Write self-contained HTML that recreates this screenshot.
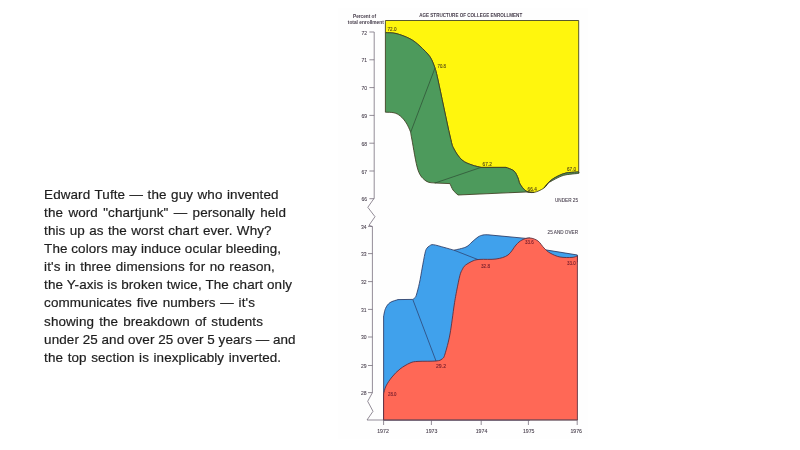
<!DOCTYPE html>
<html><head><meta charset="utf-8"><title>Worst chart ever</title>
<style>
html,body{margin:0;padding:0;background:#fff}
body{width:800px;height:450px;position:relative;overflow:hidden;font-family:"Liberation Sans",sans-serif}
.t{position:absolute;left:44.1px;top:185.8px;font-size:13.45px;line-height:18.11px;color:#1e1e1e;-webkit-text-stroke:0.2px #1e1e1e;white-space:nowrap;letter-spacing:0.1px}
.t span{display:block;transform-origin:0 50%}
</style></head><body>
<div class="t">
<span style="word-spacing:0.65px">Edward Tufte — the guy who invented</span>
<span style="word-spacing:1.49px">the word &quot;chartjunk&quot; — personally held</span>
<span style="word-spacing:0.50px">this up as the worst chart ever. Why?</span>
<span style="word-spacing:-0.10px">The colors may induce ocular bleeding,</span>
<span style="word-spacing:0.66px">it's in three dimensions for no reason,</span>
<span style="word-spacing:0.08px">the Y-axis is broken twice, The chart only</span>
<span style="word-spacing:0.88px">communicates five numbers — it's</span>
<span style="word-spacing:1.23px">showing the breakdown of students</span>
<span style="word-spacing:-0.12px">under 25 and over 25 over 5 years — and</span>
<span style="word-spacing:0.74px">the top section is inexplicably inverted.</span>
</div>
<svg width="800" height="450" viewBox="0 0 800 450" style="position:absolute;left:0;top:0">
<defs><filter id="b" x="-5%" y="-5%" width="110%" height="110%"><feGaussianBlur stdDeviation="0.55"/></filter><filter id="b2"><feGaussianBlur stdDeviation="0.35"/></filter></defs>
<rect x="338" y="8" width="250" height="431" fill="#fefefe"/>
<g filter="url(#b)" stroke="#3c3c20" stroke-width="0.85" stroke-linejoin="round">
<path d="M385.4 20.5L578.7 20.5L578.7 173.0L578.7 172.0C578.4 172.0 578.7 171.8 576.6 172.0C574.5 172.2 569.1 172.3 566.0 173.0C562.9 173.7 560.7 174.7 558.0 176.0C555.3 177.3 552.3 179.0 550.0 181.0C547.7 183.0 546.7 186.1 544.0 188.0C541.3 189.9 537.0 191.9 534.0 192.4C531.0 192.9 528.3 192.4 526.0 191.0C523.7 189.6 521.3 186.2 520.0 184.0C518.7 181.8 519.0 180.2 518.0 178.0C517.0 175.8 516.0 172.8 514.0 171.0C512.0 169.2 507.3 168.0 506.0 167.4L481.0 167.4C479.5 167.0 475.2 166.2 472.0 165.0C468.8 163.8 465.0 162.7 462.0 160.0C459.0 157.3 456.0 153.0 454.0 149.0C452.0 145.0 452.7 147.5 450.0 136.0C447.3 124.5 440.5 91.3 438.0 80.0C435.5 68.7 435.5 70.0 435.0 68.0C434.2 66.1 432.5 60.4 430.0 56.8C427.5 53.2 423.3 49.2 420.0 46.2C416.7 43.2 414.0 40.9 410.0 38.8C406.0 36.7 400.1 34.5 396.0 33.5C391.9 32.5 387.2 32.8 385.4 32.7Z" fill="#fff60a"/>
<path d="M548.0 183.0C549.7 182.1 555.0 179.0 558.0 177.6C561.0 176.2 562.5 175.5 566.0 174.8C569.5 174.1 576.6 173.6 578.7 173.4L578.7 172.0C578.4 172.0 578.7 171.8 576.6 172.0C574.5 172.2 569.1 172.3 566.0 173.0C562.9 173.7 560.7 174.7 558.0 176.0C555.3 177.3 552.3 179.0 550.0 181.0C547.7 183.0 545.0 186.8 544.0 188.0Z" fill="#4d9a5c"/>
<path d="M385.4 32.7C387.2 32.8 391.9 32.5 396.0 33.5C400.1 34.5 406.0 36.7 410.0 38.8C414.0 40.9 416.7 43.2 420.0 46.2C423.3 49.2 427.5 53.2 430.0 56.8C432.5 60.4 434.2 66.1 435.0 68.0C435.5 70.0 435.5 68.7 438.0 80.0C440.5 91.3 447.3 124.5 450.0 136.0C452.7 147.5 452.0 145.0 454.0 149.0C456.0 153.0 459.0 157.3 462.0 160.0C465.0 162.7 468.8 163.8 472.0 165.0C475.2 166.2 479.5 167.0 481.0 167.4L506.0 167.4C507.3 168.0 512.0 169.2 514.0 171.0C516.0 172.8 517.0 175.8 518.0 178.0C519.0 180.2 518.7 181.8 520.0 184.0C521.3 186.2 523.7 189.6 526.0 191.0C528.3 192.4 532.7 192.2 534.0 192.4L526.0 192.0L458.0 195.0C457.2 194.2 454.3 191.9 453.0 190.0C451.7 188.1 450.5 184.7 450.0 183.6L435.0 183.0C433.5 182.7 428.8 183.2 426.0 181.0C423.2 178.8 420.3 176.8 418.0 170.0C415.7 163.2 413.2 146.3 412.0 140.0C410.8 133.7 410.8 133.7 410.6 132.4C410.5 132.2 410.9 132.6 410.2 131.0C409.5 129.4 407.9 125.5 406.3 123.0C404.7 120.5 402.4 117.7 400.3 116.0C398.2 114.3 396.5 113.4 394.0 112.8C391.5 112.2 386.8 112.3 385.4 112.2Z" fill="#4d9a5c"/>
<path d="M435 68L410.6 132.4M435 183L481 167.4" fill="none" stroke="#2c4a34" stroke-width="0.7"/>
<path d="M383.6 420.0L383.6 316.0C383.9 315.6 384.4 310.9 385.5 308.5C386.6 306.1 387.9 304.1 390.0 302.6C392.1 301.1 396.7 300.1 398.0 299.6L412.6 299.4C413.1 299.2 414.0 298.7 414.6 298.0C415.2 297.3 415.5 297.7 416.3 295.2C417.1 292.7 418.4 287.7 419.4 283.2C420.4 278.7 421.3 272.9 422.2 268.0C423.1 263.1 424.2 256.9 424.9 253.7C425.6 250.5 425.8 249.9 426.6 248.6C427.4 247.3 428.4 246.6 429.5 245.9C430.6 245.2 431.0 244.4 433.4 244.7C435.8 244.9 440.6 246.5 444.0 247.4C447.4 248.3 452.3 249.7 454.0 250.2C456.0 249.7 463.0 248.4 466.0 247.0C469.0 245.6 470.0 243.7 472.0 242.0C474.0 240.3 476.2 238.2 478.0 237.0C479.8 235.8 481.3 235.4 483.0 235.0C484.7 234.6 487.2 234.8 488.0 234.8L526.0 238.4L530.0 238.0L530.0 420.0Z" fill="#41a1ec" stroke="#2a3a66"/>
<path d="M544.0 252.0L544.0 249.6L577.4 255.0L577.4 262.0L538.0 262.0Z" fill="#41a1ec" stroke="#2a3a66"/>
<path d="M383.6 420.0L383.6 394.0C384.0 392.7 384.6 388.8 386.0 386.0C387.4 383.2 389.7 379.8 392.0 377.0C394.3 374.2 397.0 371.3 400.0 369.0C403.0 366.7 407.0 364.3 410.0 363.0C413.0 361.7 413.7 361.7 418.0 361.4C422.3 361.1 432.0 361.4 436.0 361.0C440.0 360.6 440.5 360.2 442.0 359.0C443.5 357.8 443.7 358.2 445.0 354.0C446.3 349.8 448.5 342.2 450.0 334.0C451.5 325.8 453.1 312.3 454.2 305.0C455.3 297.7 455.9 294.9 456.8 290.0C457.8 285.1 459.0 278.8 459.9 275.4C460.8 272.0 461.4 271.2 462.3 269.5C463.2 267.8 463.5 266.8 465.3 265.3C467.1 263.9 470.7 261.8 473.1 260.8C475.6 259.8 476.2 259.7 480.0 259.4C483.8 259.1 491.3 259.7 496.0 259.0C500.7 258.3 504.7 257.3 508.0 255.0C511.3 252.7 513.7 247.5 516.0 245.0C518.3 242.5 519.7 241.2 522.0 240.0C524.3 238.8 527.3 237.8 530.0 238.0C532.7 238.2 535.7 239.3 538.0 241.0C540.3 242.7 542.0 246.0 544.0 248.0C546.0 250.0 547.3 251.5 550.0 253.0C552.7 254.5 556.3 256.3 560.0 257.0C563.7 257.7 569.1 257.6 572.0 257.4C574.9 257.2 576.5 256.2 577.4 256.0L577.4 420.0Z" fill="#ff6757" stroke="#5a2a3a"/>
<path d="M412.8 299.5L436 361M454 250.2L478 259.6" fill="none" stroke="#2a3a66" stroke-width="0.7"/>
</g>
<g filter="url(#b2)" stroke="#665c6c" stroke-width="0.7" fill="none">
<path d="M374.2 32V198.2L367.8 207.3L375 216.7L369 225.3L372.4 226.6V392.7L367.7 401.3L373 411.3L367 420H577.4"/>
<path d="M369.4 32.0H374.2M369.4 59.8H374.2M369.4 87.6H374.2M369.4 115.4H374.2M369.4 143.2H374.2M369.4 171.0H374.2M369.4 198.7H374.2M368 226.4H372.4M368 253.6H372.4M368 281.6H372.4M368 309.4H372.4M368 337.0H372.4M368 365.5H372.4M368 392.6H372.4M383.6 420V425M431.4 420V425M481.2 420V425M528.4 420V425M577.2 420V425"/>
</g>
<g filter="url(#b2)" font-family="'Liberation Sans', sans-serif" fill="#433a48" stroke="#433a48" stroke-width="0.8">
<text transform="translate(419.2 16.8) scale(0.1)" textLength="1030" lengthAdjust="spacingAndGlyphs" font-size="50" font-weight="bold" stroke="none">AGE STRUCTURE OF COLLEGE ENROLLMENT</text>
<text transform="translate(353.0 17.8) scale(0.1)" textLength="230" lengthAdjust="spacingAndGlyphs" font-size="50" font-weight="bold" stroke="none">Percent of</text>
<text transform="translate(347.8 24.0) scale(0.1)" textLength="360" lengthAdjust="spacingAndGlyphs" font-size="50" font-weight="bold" stroke="none">total enrollment</text>
<text transform="translate(361.5 34.6) scale(0.1)" textLength="56" lengthAdjust="spacingAndGlyphs" font-size="54">72</text>
<text transform="translate(361.5 62.4) scale(0.1)" textLength="56" lengthAdjust="spacingAndGlyphs" font-size="54">71</text>
<text transform="translate(361.5 90.2) scale(0.1)" textLength="56" lengthAdjust="spacingAndGlyphs" font-size="54">70</text>
<text transform="translate(361.5 118.0) scale(0.1)" textLength="56" lengthAdjust="spacingAndGlyphs" font-size="54">69</text>
<text transform="translate(361.5 145.8) scale(0.1)" textLength="56" lengthAdjust="spacingAndGlyphs" font-size="54">68</text>
<text transform="translate(361.5 173.6) scale(0.1)" textLength="56" lengthAdjust="spacingAndGlyphs" font-size="54">67</text>
<text transform="translate(361.5 201.3) scale(0.1)" textLength="56" lengthAdjust="spacingAndGlyphs" font-size="54">66</text>
<text transform="translate(361.0 228.8) scale(0.1)" textLength="56" lengthAdjust="spacingAndGlyphs" font-size="54">34</text>
<text transform="translate(361.0 256.0) scale(0.1)" textLength="56" lengthAdjust="spacingAndGlyphs" font-size="54">33</text>
<text transform="translate(361.0 284.0) scale(0.1)" textLength="56" lengthAdjust="spacingAndGlyphs" font-size="54">32</text>
<text transform="translate(361.0 311.8) scale(0.1)" textLength="56" lengthAdjust="spacingAndGlyphs" font-size="54">31</text>
<text transform="translate(361.0 339.4) scale(0.1)" textLength="56" lengthAdjust="spacingAndGlyphs" font-size="54">30</text>
<text transform="translate(361.0 367.9) scale(0.1)" textLength="56" lengthAdjust="spacingAndGlyphs" font-size="54">29</text>
<text transform="translate(361.0 395.0) scale(0.1)" textLength="56" lengthAdjust="spacingAndGlyphs" font-size="54">28</text>
<text transform="translate(383.0 432.8) scale(0.1)" textLength="116" lengthAdjust="spacingAndGlyphs" text-anchor="middle" font-size="46">1972</text>
<text transform="translate(431.6 432.8) scale(0.1)" textLength="116" lengthAdjust="spacingAndGlyphs" text-anchor="middle" font-size="46">1973</text>
<text transform="translate(481.5 432.8) scale(0.1)" textLength="116" lengthAdjust="spacingAndGlyphs" text-anchor="middle" font-size="46">1974</text>
<text transform="translate(528.7 432.8) scale(0.1)" textLength="116" lengthAdjust="spacingAndGlyphs" text-anchor="middle" font-size="46">1975</text>
<text transform="translate(576.2 432.8) scale(0.1)" textLength="116" lengthAdjust="spacingAndGlyphs" text-anchor="middle" font-size="46">1976</text>
<text transform="translate(387.5 30.6) scale(0.1)" textLength="90" lengthAdjust="spacingAndGlyphs" font-size="46" fill="#443818" stroke="#443818">72.0</text>
<text transform="translate(437.5 67.6) scale(0.1)" textLength="84" lengthAdjust="spacingAndGlyphs" font-size="46" fill="#443818" stroke="#443818">70.8</text>
<text transform="translate(482.6 166.0) scale(0.1)" textLength="92" lengthAdjust="spacingAndGlyphs" font-size="46" fill="#443818" stroke="#443818">67.2</text>
<text transform="translate(527.6 190.9) scale(0.1)" textLength="92" lengthAdjust="spacingAndGlyphs" font-size="46" fill="#443818" stroke="#443818">66.4</text>
<text transform="translate(567.0 170.8) scale(0.1)" textLength="90" lengthAdjust="spacingAndGlyphs" font-size="46" fill="#443818" stroke="#443818">67.0</text>
<text transform="translate(555.0 201.6) scale(0.1)" textLength="230" lengthAdjust="spacingAndGlyphs" font-size="46">UNDER 25</text>
<text transform="translate(547.6 234.4) scale(0.1)" textLength="304" lengthAdjust="spacingAndGlyphs" font-size="46">25 AND OVER</text>
<text transform="translate(481.0 267.8) scale(0.1)" textLength="90" lengthAdjust="spacingAndGlyphs" font-size="46" fill="#6a1a2a" stroke="#6a1a2a">32.8</text>
<text transform="translate(525.0 243.8) scale(0.1)" textLength="86" lengthAdjust="spacingAndGlyphs" font-size="46" fill="#6a1a2a" stroke="#6a1a2a">33.6</text>
<text transform="translate(567.0 264.8) scale(0.1)" textLength="86" lengthAdjust="spacingAndGlyphs" font-size="46" fill="#6a1a2a" stroke="#6a1a2a">33.0</text>
<text transform="translate(436.0 368.2) scale(0.1)" textLength="100" lengthAdjust="spacingAndGlyphs" font-size="46" fill="#6a1a2a" stroke="#6a1a2a">29.2</text>
<text transform="translate(388.0 396.2) scale(0.1)" textLength="84" lengthAdjust="spacingAndGlyphs" font-size="46" fill="#6a1a2a" stroke="#6a1a2a">28.0</text>
</g>
</svg>
</body></html>
